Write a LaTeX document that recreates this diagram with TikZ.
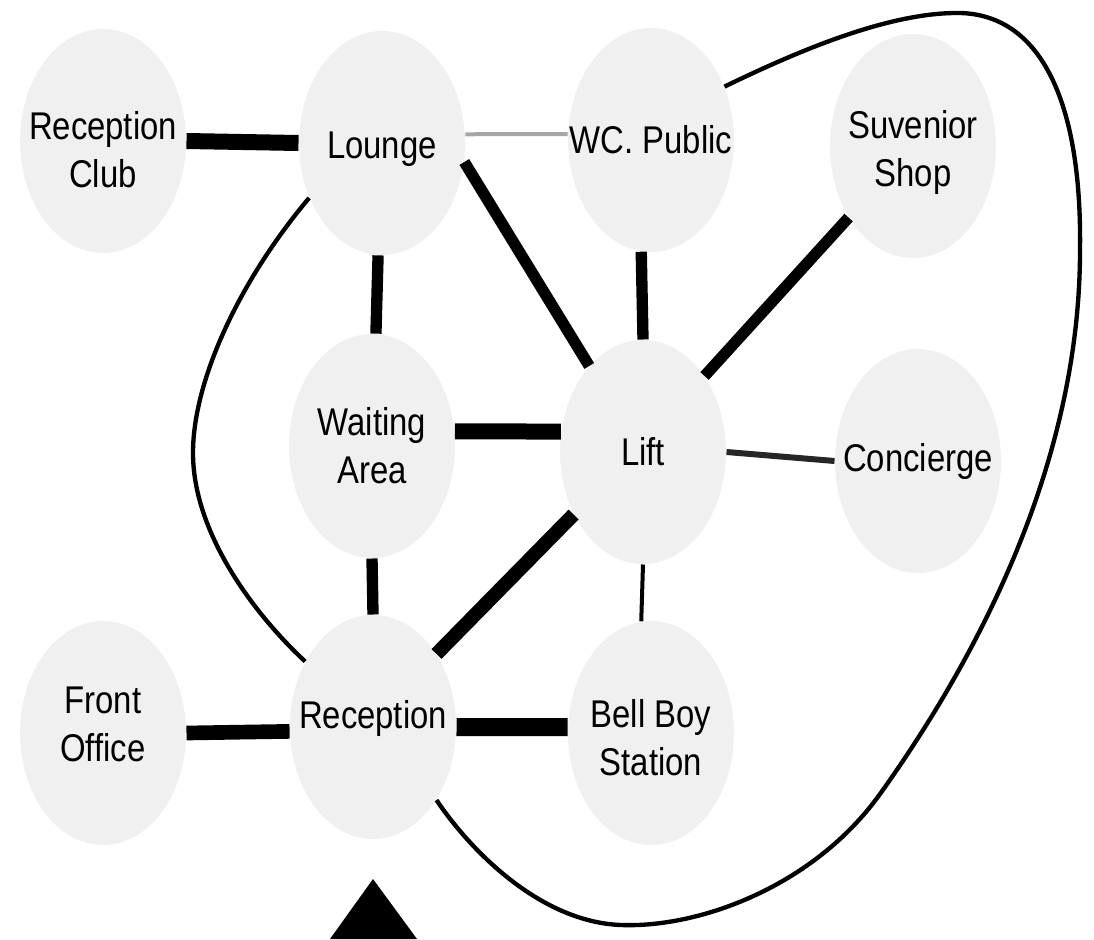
\documentclass[tikz,border=0pt]{standalone}
\usepackage{fontspec}
\setmainfont{Liberation Sans}[FakeStretch=0.85]
\usetikzlibrary{shapes.geometric}

\tikzset{every picture/.style={line width=0.75pt}}
\tikzset{
  room/.style={ellipse, fill=black!6, minimum width=124.5pt, minimum height=168pt, inner sep=0pt},
  tag/.style={align=center, inner sep=0pt, font=\fontsize{29}{36}\selectfont},
  wide link/.style={line width=12pt},
  mid link/.style={line width=8.5pt},
  thin link/.style={line width=3pt},
  ring/.style={line width=3.25pt},
}

\begin{document}
\begin{tikzpicture}[x=0.75pt,y=0.75pt,yscale=-1,xscale=1]
\useasboundingbox (0,0) rectangle (1094,939);

%Shape: Ellipse (rooms)
\node[room] (club) at (103,141) {};
\node[room] (lounge) at (382,143) {};
\node[room] (wc) at (651,140) {};
\node[room] (shop) at (913,146) {};
\node[room] (waiting) at (372,446) {};
\node[room] (lift) at (643,452) {};
\node[room] (concierge) at (918,461) {};
\node[room] (front) at (103,733) {};
\node[room] (reception) at (373,727) {};
\node[room] (bellboy) at (651,733) {};

%Straight Lines
\draw[wide link] (club.east) -- (lounge.west);
\draw[thin link, black!35] (lounge.6) -- (wc.176);
\draw[mid link] (lounge.-13) -- (lift.122);
\draw[mid link] (lounge.-92) -- (waiting.88);
\draw[mid link] (wc.-95) -- (lift.north);
\draw[mid link] (lift.51) -- (shop.-132);
\draw[wide link] (waiting.10) -- (lift.166);
\draw[line width=4.5pt, black!85] (lift.east) -- (concierge.west);
\draw[mid link] (waiting.south) -- (reception.north);
\draw[line width=10.5pt] (lift.-138) -- (reception.49);
\draw[thin link] (lift.south) -- (bellboy.95);
\draw[line width=11pt] (front.east) -- (reception.183);
\draw[line width=13.5pt] (reception.east) -- (bellboy.176);

%Curve Lines
\draw[ring] (lounge.217) .. controls (240,280) and (193,380) .. (193,453)
  .. controls (193,530) and (250,610) .. (reception.136);
\draw[ring] (wc.36) .. controls (800,50) and (890,12) .. (960,13)
  .. controls (1040,15) and (1082,100) .. (1080,250)
  .. controls (1080,450) and (990,640) .. (880,794)
  .. controls (814,886) and (700,928) .. (621,925)
  .. controls (540,922) and (470,850) .. (reception.-49);

%Shape: Triangle
\fill (330,939) -- (373,879) -- (417,939) -- cycle;

% Text Node (yshift points down here, the y axis is flipped)
\node[tag] (club text) at ([yshift=6.5pt]club.center) {Reception\\Club};
\node[tag] (lounge text) at ([yshift=4.5pt]lounge.center) {Lounge};
\node[tag] (wc text) at (wc.center) {WC. Public};
\node[tag] (shop text) at ([yshift=5pt]shop.center) {Suvenior\\Shop};
\node[tag] (waiting text) at (waiting.center) {Waiting\\Area};
\node[tag] (lift text) at (lift.center) {Lift};
\node[tag] (concierge text) at (concierge.center) {Concierge};
\node[tag] (front text) at ([yshift=-6.75pt]front.center) {Front\\Office};
\node[tag] (reception text) at ([yshift=-6.75pt]reception.center) {Reception};
\node[tag] (bellboy text) at ([yshift=3.75pt]bellboy.center) {Bell Boy\\Station};

\end{tikzpicture}
\end{document}
